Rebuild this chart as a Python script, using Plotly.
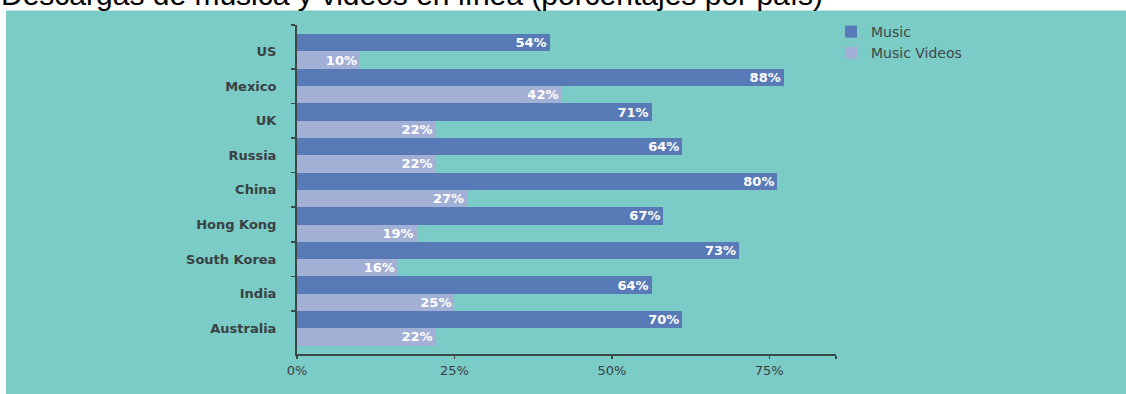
import plotly.graph_objects as go

countries = ["US", "Mexico", "UK", "Russia", "China", "Hong Kong", "South Korea", "India", "Australia"]
# Music bar lengths as drawn in the source picture (its printed labels differ from lengths)
music_bar = [40.1, 77.3, 56.3, 61.2, 76.3, 58.2, 70.2, 56.3, 61.2]
music_labels = ["54%", "88%", "71%", "64%", "80%", "67%", "73%", "64%", "70%"]
video_values = [10, 42, 22, 22, 27, 19, 16, 25, 22]
video_labels = [f"{v}%" for v in video_values]
x_tickvals = [0, 25, 50, 75]
x_ticktext = ["0%", "25%", "50%", "75%"]
title_text = "Descargas de música y videos en línea (porcentajes por país)"

TEAL = "#7BCBC6"
MUSIC = "#587AB6"
VIDEO = "#A3B0D6"
AXIS = "#3C4748"
TXT = "#3A4143"

ypos = list(range(len(countries)))
x_max = 85.6
y_top = -0.765
y_bot = 8.742

L, R, T, B = 297, 290, 25, 40
PW = 1126 - L - R
PH = 394 - T - B

fig = go.Figure()
fig.add_trace(go.Bar(
    name="Music", y=ypos, x=music_bar, orientation="h",
    marker=dict(color=MUSIC, line=dict(width=0)),
    text=music_labels, textposition="inside", insidetextanchor="end",
    constraintext="none",
    textfont=dict(family="DejaVu Sans", size=13, color="white", weight="bold"),
    hoverinfo="skip",
))
fig.add_trace(go.Bar(
    name="Music Videos", y=ypos, x=video_values, orientation="h",
    marker=dict(color=VIDEO, line=dict(width=0)),
    text=video_labels, textposition="inside", insidetextanchor="end",
    constraintext="none",
    textfont=dict(family="DejaVu Sans", size=13, color="white", weight="bold"),
    hoverinfo="skip",
))

fig.update_layout(
    width=1126, height=394,
    margin=dict(l=L, r=R, t=T, b=B),
    paper_bgcolor="white",
    plot_bgcolor="rgba(0,0,0,0)",
    barmode="group", bargap=0, bargroupgap=0,
    showlegend=True,
    hovermode=False,
    legend=dict(
        x=(831 - L) / PW, xref="paper", xanchor="left",
        y=1 + 9 / PH, yanchor="top",
        bgcolor="rgba(0,0,0,0)", borderwidth=0,
        font=dict(family="DejaVu Sans", size=14, color="#3F4748"),
        traceorder="normal", itemclick=False,
    ),
    shapes=[dict(
        type="rect", xref="paper", yref="paper", layer="below",
        x0=(6 - L) / PW, x1=(1130 - L) / PW,
        y0=-(398 - T - PH) / PH, y1=1 + (T - 10.5) / PH,
        fillcolor=TEAL, line=dict(width=0),
    )],
    annotations=[dict(
        text=title_text, xref="paper", yref="paper",
        x=0, y=1, xanchor="left", yanchor="bottom",
        xshift=-L - 1, yshift=12, showarrow=False,
        font=dict(family="Liberation Sans, Arial", size=30, color="black"),
    )],
)

fig.update_xaxes(
    range=[0, x_max], tickmode="array", tickvals=x_tickvals, ticktext=x_ticktext,
    showgrid=False, zeroline=False,
    showline=True, linecolor=AXIS, linewidth=2,
    ticks="outside", ticklen=3, tickwidth=1.5, tickcolor=AXIS,
    ticklabelstandoff=0,
    tickfont=dict(family="DejaVu Sans", size=13, color=TXT),
    minor=dict(tickmode="array", tickvals=[x_max], ticks="outside", ticklen=3,
               tickwidth=1.5, tickcolor=AXIS, showgrid=False),
    fixedrange=True,
)
fig.update_yaxes(
    range=[y_bot, y_top], tickmode="array", tickvals=ypos, ticktext=countries,
    showgrid=False, zeroline=False,
    showline=True, linecolor=AXIS, linewidth=2,
    ticks="", ticklabelstandoff=16,
    tickfont=dict(family="DejaVu Sans", size=13, color=TXT, weight="bold"),
    minor=dict(tickmode="array", tickvals=[y_top] + [i + 0.5 for i in ypos[:-1]],
               ticks="outside", ticklen=4, tickwidth=1.5, tickcolor=AXIS, showgrid=False),
    fixedrange=True,
)

fig.write_html(
    "out.html",
    config={"displayModeBar": False, "staticPlot": True},
    post_script="document.body.style.margin='0';document.body.style.overflow='hidden';",
)
